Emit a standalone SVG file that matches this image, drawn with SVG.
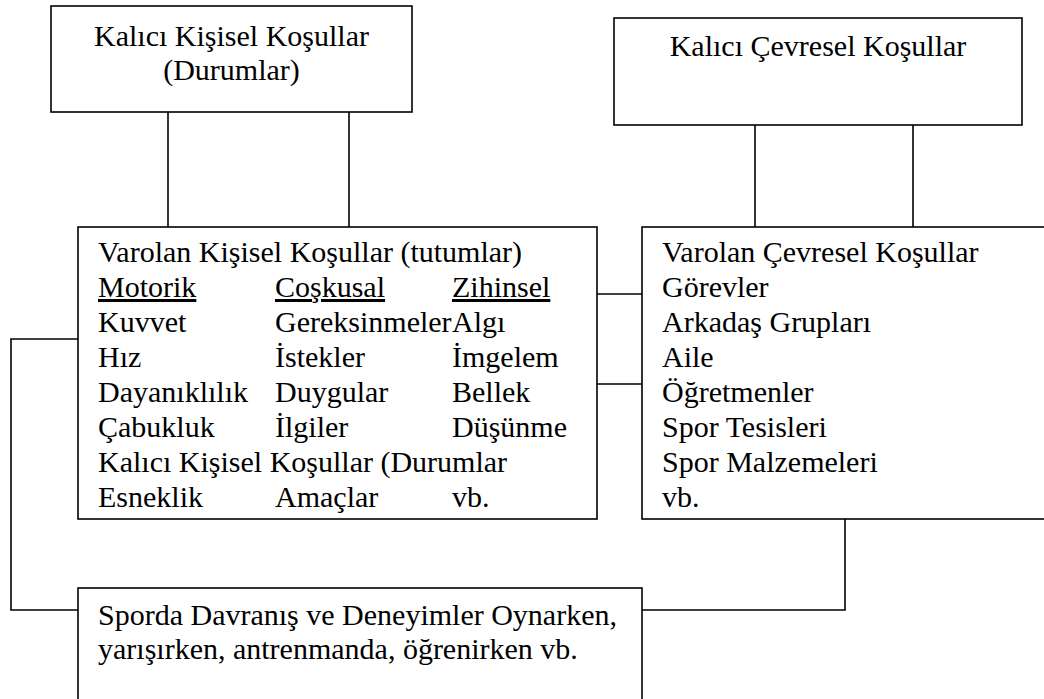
<svg xmlns="http://www.w3.org/2000/svg" width="1044" height="699" viewBox="0 0 1044 699">
<style>
.box{fill:#fff;stroke:#000;stroke-width:1.6}
.ln{fill:none;stroke:#000;stroke-width:1.6}
text{font-family:"Liberation Serif","Times New Roman",serif;font-size:30px;fill:#000}
.c{text-anchor:middle}
.u{text-decoration:underline}
</style>
<rect width="1044" height="699" fill="#fff"/>
<g id="connectors">
<line class="ln" x1="168" y1="112" x2="168" y2="227"/>
<line class="ln" x1="349" y1="112" x2="349" y2="227"/>
<line class="ln" x1="755" y1="125" x2="755" y2="227"/>
<line class="ln" x1="913" y1="125" x2="913" y2="227"/>
<line class="ln" x1="597" y1="294" x2="642" y2="294"/>
<line class="ln" x1="597" y1="384" x2="642" y2="384"/>
<polyline class="ln" points="78,339 11,339 11,610 78,610"/>
<polyline class="ln" points="845,519 845,610 642,610"/>
</g>
<g id="kalici-kisisel">
<rect class="box" x="51" y="6" width="361" height="106"/>
<text class="c" x="231.5" y="46">Kalıcı Kişisel Koşullar</text>
<text class="c" x="231.5" y="80">(Durumlar)</text>
</g>
<g id="kalici-cevresel">
<rect class="box" x="614" y="18" width="408" height="107"/>
<text class="c" x="818" y="56">Kalıcı Çevresel Koşullar</text>
</g>
<g id="varolan-kisisel">
<rect class="box" x="78" y="227" width="519" height="292"/>
<text x="98" y="262">Varolan Kişisel Koşullar (tutumlar)</text>
<text class="u" x="98" y="297">Motorik</text>
<text class="u" x="275" y="297">Coşkusal</text>
<text class="u" x="452" y="297">Zihinsel</text>
<text x="98" y="332">Kuvvet</text>
<text x="275" y="332">Gereksinmeler</text>
<text x="452" y="332">Algı</text>
<text x="98" y="367">Hız</text>
<text x="275" y="367">İstekler</text>
<text x="452" y="367">İmgelem</text>
<text x="98" y="402">Dayanıklılık</text>
<text x="275" y="402">Duygular</text>
<text x="452" y="402">Bellek</text>
<text x="98" y="437">Çabukluk</text>
<text x="275" y="437">İlgiler</text>
<text x="452" y="437">Düşünme</text>
<text x="98" y="472">Kalıcı Kişisel Koşullar (Durumlar</text>
<text x="98" y="507">Esneklik</text>
<text x="275" y="507">Amaçlar</text>
<text x="452" y="507">vb.</text>
</g>
<g id="varolan-cevresel">
<rect class="box" x="642" y="227" width="410" height="292"/>
<text x="662" y="262">Varolan Çevresel Koşullar</text>
<text x="662" y="297">Görevler</text>
<text x="662" y="332">Arkadaş Grupları</text>
<text x="662" y="367">Aile</text>
<text x="662" y="402">Öğretmenler</text>
<text x="662" y="437">Spor Tesisleri</text>
<text x="662" y="472">Spor Malzemeleri</text>
<text x="662" y="507">vb.</text>
</g>
<g id="sporda-davranis">
<rect class="box" x="78" y="588" width="564" height="120"/>
<text x="98" y="625">Sporda Davranış ve Deneyimler Oynarken,</text>
<text x="98" y="659">yarışırken, antrenmanda, öğrenirken vb.</text>
</g>
</svg>
